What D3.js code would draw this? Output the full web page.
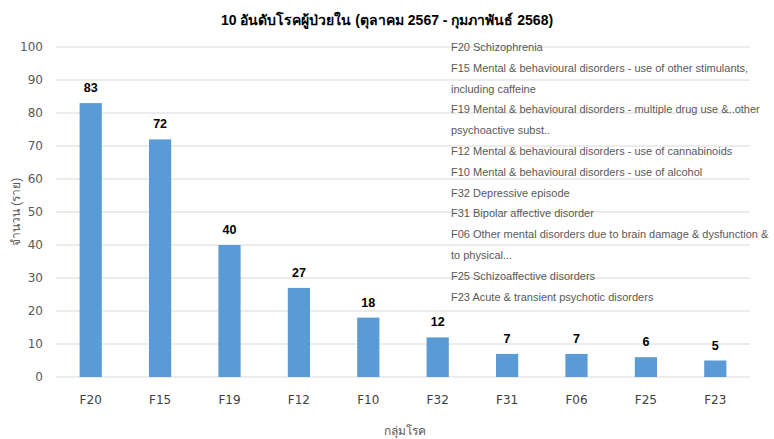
<!DOCTYPE html>
<html>
<head>
<meta charset="utf-8">
<script src="https://cdn.jsdelivr.net/npm/d3@7"></script>
<style>
  body { margin: 0; background: #fff; }
  text { font-family: "Liberation Sans", Arial, sans-serif; }
</style>
</head>
<body>
<div id="chart"></div>
<script>
// data
const categories = ["F20", "F15", "F19", "F12", "F10", "F32", "F31", "F06", "F25", "F23"];
const values = [83, 72, 40, 27, 18, 12, 7, 7, 6, 5];
const yTicks = [0, 10, 20, 30, 40, 50, 60, 70, 80, 90, 100];
const legendLines = [
    "F20 Schizophrenia",
    "F15 Mental & behavioural disorders - use of other stimulants,",
    "including caffeine",
    "F19 Mental & behavioural disorders - multiple drug use &..other",
    "psychoactive subst..",
    "F12 Mental & behavioural disorders - use of cannabinoids",
    "F10 Mental & behavioural disorders - use of alcohol",
    "F32 Depressive episode",
    "F31 Bipolar affective disorder",
    "F06 Other mental disorders due to brain damage & dysfunction &",
    "to physical...",
    "F25 Schizoaffective disorders",
    "F23 Acute & transient psychotic disorders"
];
const title = "10 อันดับโรคผู้ป่วยใน (ตุลาคม 2567 - กุมภาพันธ์ 2568)";
const xTitle = "กลุ่มโรค";
const yTitle = "จำนวน (ราย)";

const W = 774, H = 439;
const margin = {top: 47, right: 24, bottom: 62, left: 56};
const width = W - margin.left - margin.right;
const height = H - margin.top - margin.bottom;

const svg = d3.select("#chart").append("svg")
    .attr("width", W)
    .attr("height", H);

const g = svg.append("g")
    .attr("transform", `translate(${margin.left},${margin.top})`);

const x = d3.scaleBand()
    .domain(categories)
    .range([0, width])
    .paddingInner(0.68)
    .paddingOuter(0.34);

const y = d3.scaleLinear()
    .domain([0, 100])
    .range([height, 0]);

// gridlines
g.selectAll(".grid")
    .data(yTicks)
    .enter().append("line")
    .attr("x1", 0)
    .attr("x2", width)
    .attr("y1", d => y(d))
    .attr("y2", d => y(d))
    .attr("stroke", "#d9d9d9")
    .attr("stroke-width", 1);

// y axis labels
const yAxis = g.append("g")
    .call(d3.axisLeft(y).tickValues(yTicks).tickSize(0).tickPadding(13));
yAxis.select(".domain").remove();
yAxis.selectAll("text")
    .attr("fill", "#595959")
    .style("font-family", "Tahoma, 'DejaVu Sans', sans-serif")
    .style("font-size", "12px");

// x axis labels
const xAxis = g.append("g")
    .attr("transform", `translate(0,${height})`)
    .call(d3.axisBottom(x).tickSize(0).tickPadding(18));
xAxis.select(".domain").remove();
xAxis.selectAll("text")
    .attr("fill", "#404040")
    .style("font-family", "Tahoma, 'DejaVu Sans', sans-serif")
    .style("font-size", "12px");

// bars
g.selectAll(".bar")
    .data(values)
    .enter().append("rect")
    .attr("x", (d, i) => x(categories[i]))
    .attr("y", d => y(d))
    .attr("width", x.bandwidth())
    .attr("height", d => height - y(d))
    .attr("fill", "#5b9bd5");

// value labels
g.selectAll(".val")
    .data(values)
    .enter().append("text")
    .attr("x", (d, i) => x(categories[i]) + x.bandwidth() / 2)
    .attr("y", d => y(d) - 11)
    .attr("text-anchor", "middle")
    .attr("font-weight", "bold")
    .attr("fill", "#000")
    .style("font-size", "12.5px")
    .text(d => d);

// legend text (no markers shown)
svg.append("g")
    .selectAll("text")
    .data(legendLines)
    .enter().append("text")
    .attr("x", 451)
    .attr("y", (d, i) => 51 + i * 20.8)
    .attr("fill", "#595959")
    .style("font-size", "11px")
    .text(d => d);

// title
svg.append("text")
    .attr("x", 387)
    .attr("y", 25)
    .attr("text-anchor", "middle")
    .attr("font-weight", "bold")
    .attr("fill", "#000")
    .style("font-size", "14px")
    .text(title);

// axis titles
svg.append("text")
    .attr("x", 405)
    .attr("y", 435)
    .attr("text-anchor", "middle")
    .attr("fill", "#595959")
    .style("font-size", "12px")
    .text(xTitle);

svg.append("text")
    .attr("transform", `translate(20,${margin.top + height / 2}) rotate(-90)`)
    .attr("text-anchor", "middle")
    .attr("fill", "#595959")
    .style("font-size", "12px")
    .text(yTitle);
</script>
</body>
</html>
